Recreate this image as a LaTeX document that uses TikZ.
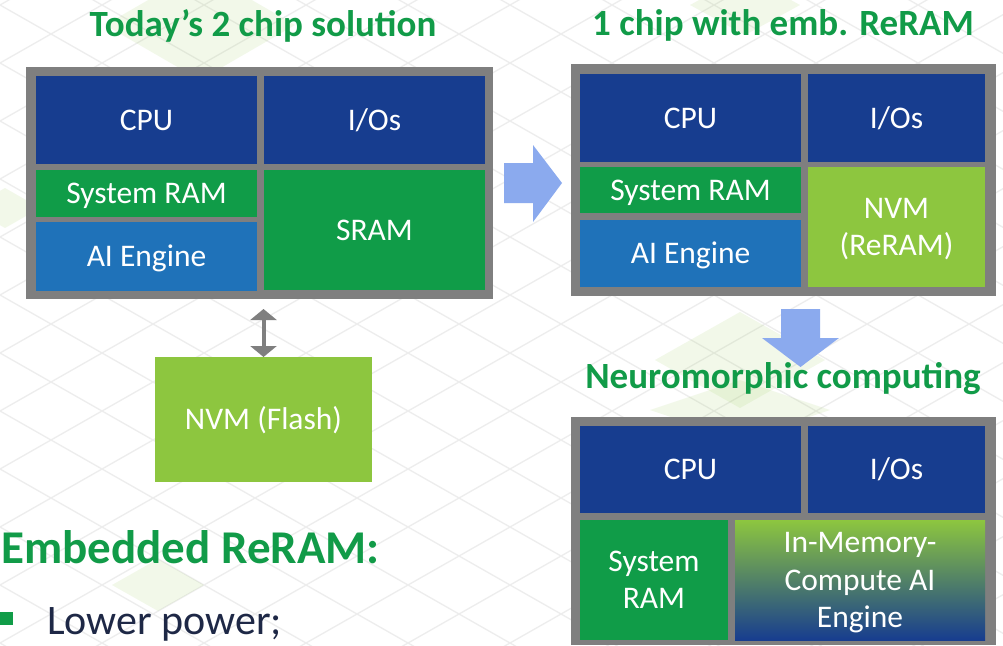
\documentclass[tikz,border=0pt]{standalone}
\usepackage{fontspec}
\setmainfont{Carlito}
\usetikzlibrary{arrows.meta,calc}
\definecolor{dblue}{RGB}{23,61,143}
\definecolor{mgreen}{RGB}{16,156,72}
\definecolor{aiblue}{RGB}{31,114,185}
\definecolor{lgreen}{RGB}{141,198,63}
\definecolor{chipgray}{RGB}{127,127,127}
\definecolor{arrblue}{RGB}{139,170,238}
\definecolor{titlegreen}{RGB}{17,155,72}
\definecolor{navy}{RGB}{30,40,70}
\definecolor{gridc}{RGB}{237,237,237}
\definecolor{midc}{RGB}{92,145,105}
\tikzset{
  box/.style={rectangle, inner sep=0pt, outer sep=0pt, anchor=north west, text=white, align=center,
              font=\fontsize{31.5}{37.5}\selectfont, text height=20pt, text depth=0pt},
  twoline/.style={text height=57.5pt, text depth=0pt},
  threeline/.style={text height=95pt, text depth=0pt},
  chip/.style={rectangle, inner sep=0pt, outer sep=0pt, anchor=north west, fill=chipgray},
  ttl/.style={text=titlegreen, font=\fontsize{37}{44}\selectfont\bfseries, inner sep=0pt, anchor=base},
  gridline/.style={draw=gridc, line width=1.3pt},
  tile/.style={fill=lgreen, opacity=0.11},
  blockarrow/.style={fill=arrblue},
  dbl/.style={draw=chipgray, line width=4pt,
    {Triangle[width=26pt,length=11pt]}-{Triangle[width=26pt,length=11pt]}},
}
\begin{document}
\begin{tikzpicture}[x=1pt,y=-1pt]
\useasboundingbox (0,0) rectangle (1003,645);
\fill[white] (0,0) rectangle (1003,645);
% background lattice
\begin{scope}
\clip (0,0) rectangle (1003,645);
\foreach \n in {-12,...,10} {
  \draw[gridline] (0,{121+58*\n}) -- (1003,{121+58*\n+570.3});
}
\foreach \n in {-11,...,12} {
  \draw[gridline] (0,{585+58*\n}) -- (1003,{585+58*\n-570.3});
}
% faint green tiles
\fill[tile] (105,25) -- (200,-30) -- (295,25) -- (200,80) -- cycle;
\fill[tile] (-30,208) -- (5,188) -- (40,208) -- (5,228) -- cycle;
\fill[tile] (655,360) -- (740,312) -- (825,360) -- (740,408) -- cycle;
\fill[tile] (112,585) -- (158,559) -- (204,585) -- (158,611) -- cycle;
\fill[tile] (650,410) -- (740,380) -- (830,410) -- (740,440) -- cycle;
\fill[tile] (690,5) -- (745,-25) -- (800,5) -- (745,35) -- cycle;
\end{scope}

% titles
\node[ttl] (t1) at (263,36) {Today’s 2 chip solution};
\node[ttl] (t2) at (783,35) {1 chip with emb. ReRAM};
\node[ttl] (t3) at (783,388) {Neuromorphic computing};

% chip A
\node[chip, minimum width=467pt, minimum height=232pt] (chipA) at (26,67) {};
\node[box, fill=dblue, minimum width=221pt, minimum height=88pt] (cpuA) at (36,76) {CPU};
\node[box, fill=dblue, minimum width=221pt, minimum height=88pt] (ioA) at (264,76) {I/Os};
\node[box, fill=mgreen, minimum width=221pt, minimum height=47pt] (ramA) at (36,170) {System RAM};
\node[box, fill=aiblue, minimum width=221pt, minimum height=69pt] (aiA) at (36,222) {AI Engine};
\node[box, fill=mgreen, minimum width=221pt, minimum height=120pt] (sramA) at (264,170) {SRAM};

% flash
\node[box, fill=lgreen, minimum width=217pt, minimum height=125pt] (flash) at (155,357) {NVM (Flash)};
\draw[dbl, shorten >=10pt] (flash.north) -- (flash.north |- chipA.south);

% right arrow
\fill[blockarrow] (504,163) -- (533,163) -- (533,145) -- (562,183) -- (533,222) -- (533,203) -- (504,203) -- cycle;

% chip B
\node[chip, minimum width=425pt, minimum height=232pt] (chipB) at (571,64) {};
\node[box, fill=dblue, minimum width=221pt, minimum height=88pt] (cpuB) at (580,74) {CPU};
\node[box, fill=dblue, minimum width=177pt, minimum height=88pt] (ioB) at (808,74) {I/Os};
\node[box, fill=mgreen, minimum width=221pt, minimum height=46pt] (ramB) at (580,167) {System RAM};
\node[box, fill=aiblue, minimum width=221pt, minimum height=67pt] (aiB) at (580,220) {AI Engine};
\node[box, twoline, fill=lgreen, minimum width=177pt, minimum height=120pt] (nvmB) at (808,167) {NVM\\(ReRAM)};

% down arrow
\fill[blockarrow] (781,309) -- (820,309) -- (820,338) -- (839,338) -- (800.5,367) -- (762,338) -- (781,338) -- cycle;

% chip C
\node[chip, minimum width=425pt, minimum height=228pt] (chipC) at (571,417) {};
\node[box, fill=dblue, minimum width=221pt, minimum height=87pt] (cpuC) at (580,426) {CPU};
\node[box, fill=dblue, minimum width=177pt, minimum height=87pt] (ioC) at (808,426) {I/Os};
\node[box, twoline, fill=mgreen, minimum width=148pt, minimum height=120pt] (ramC) at (580,520) {System\\RAM};
\node[box, threeline, top color=lgreen, middle color=midc, bottom color=dblue, minimum width=250pt, minimum height=120pt] (imcC) at (735,520) {In-Memory-\\Compute AI\\Engine};

% bottom-left text
\node[anchor=base west, inner sep=0pt, text=titlegreen, font=\fontsize{47}{56}\selectfont\bfseries] (emb) at (1,563) {Embedded ReRAM:};
\node[rectangle, fill=mgreen, inner sep=0pt, minimum size=13pt, anchor=north west] (bul) at (0,612) {};
\node[anchor=base west, inner sep=0pt, text=navy, font=\fontsize{42}{50}\selectfont] (lp) at (47,634) {Lower power;};
\end{tikzpicture}
\end{document}
